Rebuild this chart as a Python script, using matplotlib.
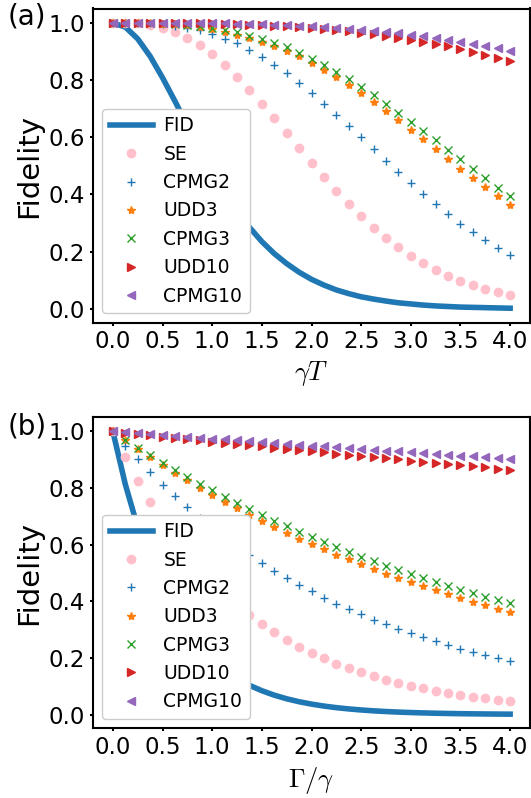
import matplotlib
matplotlib.use("Agg")
import matplotlib.pyplot as plt

plt.rcParams["font.family"] = ["DejaVu Sans"]
plt.rcParams["mathtext.fontset"] = "cm"

# sample grid (gamma*T in panel a, Gamma/gamma in panel b)
x = [0.0, 0.125, 0.25, 0.375, 0.5, 0.625, 0.75, 0.875, 1.0, 1.125, 1.25, 1.375,
     1.5, 1.625, 1.75, 1.875, 2.0, 2.125, 2.25, 2.375, 2.5, 2.625, 2.75, 2.875,
     3.0, 3.125, 3.25, 3.375, 3.5, 3.625, 3.75, 3.875, 4.0]

labels = ["FID", "SE", "CPMG2", "UDD3", "CPMG3", "UDD10", "CPMG10"]

# ---- panel (a): fidelity vs gamma*T ----
fid_a = [1.0, 0.985, 0.944, 0.883, 0.808, 0.726, 0.641, 0.558, 0.479, 0.407, 0.342,
         0.285, 0.235, 0.193, 0.158, 0.128, 0.103, 0.083, 0.066, 0.053, 0.042, 0.034,
         0.027, 0.021, 0.017, 0.013, 0.010, 0.008, 0.006, 0.005, 0.004, 0.003, 0.002]
se_a = [1.0, 0.9997, 0.9976, 0.9924, 0.9828, 0.9681, 0.9478, 0.9218, 0.8901, 0.8532,
        0.8113, 0.7657, 0.7171, 0.6662, 0.6143, 0.5621, 0.5107, 0.4604, 0.4120, 0.3664,
        0.3238, 0.2842, 0.2479, 0.2149, 0.1854, 0.1590, 0.1357, 0.1152, 0.0974, 0.0819,
        0.0686, 0.0572, 0.0476]
cpmg2_a = [1.0, 0.9999, 0.9994, 0.9978, 0.9949, 0.9901, 0.9831, 0.9735, 0.9613, 0.945,
           0.928, 0.906, 0.880, 0.854, 0.825, 0.791, 0.755, 0.716, 0.679, 0.638, 0.600,
           0.559, 0.518, 0.478, 0.440, 0.402, 0.366, 0.331, 0.298, 0.267, 0.239, 0.213,
           0.189]
udd3_a = [1.0, 1.0, 0.9996, 0.9988, 0.9972, 0.9945, 0.9905, 0.985, 0.978, 0.968, 0.957,
          0.947, 0.934, 0.920, 0.903, 0.883, 0.860, 0.836, 0.810, 0.783, 0.754, 0.723,
          0.692, 0.660, 0.626, 0.592, 0.558, 0.523, 0.490, 0.457, 0.425, 0.393, 0.362]
cpmg3_a = [1.0, 1.0, 0.9997, 0.999, 0.9977, 0.9956, 0.992, 0.988, 0.982, 0.974, 0.966,
           0.955, 0.944, 0.930, 0.914, 0.894, 0.873, 0.851, 0.828, 0.803, 0.775, 0.746,
           0.716, 0.685, 0.653, 0.622, 0.589, 0.555, 0.522, 0.490, 0.457, 0.424, 0.393]
udd10_a = [1.0, 1.0, 1.0, 0.9999, 0.9997, 0.9994, 0.9989, 0.9983, 0.9976, 0.9965, 0.9954,
           0.9939, 0.9922, 0.990, 0.9878, 0.985, 0.9819, 0.9785, 0.9746, 0.970, 0.9655,
           0.960, 0.9545, 0.948, 0.9415, 0.934, 0.926, 0.918, 0.908, 0.899, 0.888, 0.877,
           0.865]
cpmg10_a = [1.0, 1.0, 1.0, 0.9999, 0.9998, 0.9996, 0.9992, 0.9988, 0.9983, 0.9975, 0.9967,
            0.9956, 0.9944, 0.9929, 0.9912, 0.9892, 0.987, 0.9845, 0.9817, 0.9786, 0.9752,
            0.9714, 0.9673, 0.9628, 0.9579, 0.9526, 0.9469, 0.9407, 0.9341, 0.9271, 0.9196,
            0.9115, 0.903]

# ---- panel (b): fidelity vs Gamma/gamma ----
fid_b = [1.0, 0.8136, 0.6620, 0.5386, 0.4382, 0.3566, 0.2901, 0.2360, 0.1920, 0.1563,
         0.1271, 0.1034, 0.0842, 0.0685, 0.0557, 0.0453, 0.0369, 0.0300, 0.0244, 0.0199,
         0.0162, 0.0131, 0.0107, 0.0087, 0.0071, 0.0058, 0.0047, 0.0038, 0.0031, 0.0025,
         0.0021, 0.0017, 0.0014]
se_b = [1.0, 0.9092, 0.8267, 0.7516, 0.6833, 0.6213, 0.5649, 0.5136, 0.4670, 0.4246,
        0.3860, 0.3510, 0.3191, 0.2901, 0.2638, 0.2398, 0.2181, 0.1983, 0.1803, 0.1639,
        0.1490, 0.1355, 0.1232, 0.1120, 0.1018, 0.0926, 0.0842, 0.0765, 0.0696, 0.0633,
        0.0575, 0.0523, 0.0476]
cpmg2_b = [1.0, 0.9493, 0.9012, 0.8556, 0.8122, 0.7710, 0.7320, 0.6949, 0.6597, 0.6263,
           0.5945, 0.5644, 0.5358, 0.5087, 0.4829, 0.4584, 0.4352, 0.4131, 0.3922, 0.3723,
           0.3535, 0.3356, 0.3186, 0.3024, 0.2871, 0.2726, 0.2587, 0.2456, 0.2332, 0.2214,
           0.2101, 0.1995, 0.1894]
udd3_b = [1.0, 0.9688, 0.9386, 0.9093, 0.8810, 0.8535, 0.8269, 0.8011, 0.7761, 0.7519,
          0.7284, 0.7057, 0.6837, 0.6624, 0.6417, 0.6217, 0.6023, 0.5835, 0.5653, 0.5477,
          0.5306, 0.5140, 0.4980, 0.4824, 0.4674, 0.4528, 0.4387, 0.4250, 0.4117, 0.3989,
          0.3864, 0.3744, 0.3627]
cpmg3_b = [1.0, 0.9712, 0.9432, 0.9161, 0.8897, 0.8641, 0.8392, 0.8150, 0.7916, 0.7688,
           0.7466, 0.7251, 0.7042, 0.6840, 0.6643, 0.6451, 0.6266, 0.6085, 0.5910, 0.5740,
           0.5575, 0.5414, 0.5258, 0.5107, 0.4960, 0.4817, 0.4678, 0.4544, 0.4413, 0.4286,
           0.4162, 0.4043, 0.3926]
udd10_b = [1.0, 0.9955, 0.9910, 0.9865, 0.9820, 0.9776, 0.9732, 0.9688, 0.9644, 0.9600,
           0.9557, 0.9514, 0.9471, 0.9428, 0.9385, 0.9343, 0.9300, 0.9258, 0.9217, 0.9175,
           0.9133, 0.9092, 0.9051, 0.9010, 0.8969, 0.8929, 0.8888, 0.8848, 0.8808, 0.8768,
           0.8729, 0.8689, 0.8650]
cpmg10_b = [1.0, 0.9968, 0.9936, 0.9905, 0.9873, 0.9842, 0.9811, 0.9779, 0.9748, 0.9717,
            0.9686, 0.9656, 0.9625, 0.9594, 0.9564, 0.9533, 0.9503, 0.9473, 0.9443, 0.9412,
            0.9382, 0.9353, 0.9323, 0.9293, 0.9264, 0.9234, 0.9205, 0.9176, 0.9147, 0.9117,
            0.9089, 0.9060, 0.9030]

panels = [
    ("(a)", r"$\gamma T$", [fid_a, se_a, cpmg2_a, udd3_a, cpmg3_a, udd10_a, cpmg10_a]),
    ("(b)", r"$\Gamma/\gamma$", [fid_b, se_b, cpmg2_b, udd3_b, cpmg3_b, udd10_b, cpmg10_b]),
]

styles = [
    dict(linestyle="-", lw=4, color="#1f77b4"),
    dict(linestyle="none", marker="o", color="pink"),
    dict(linestyle="none", marker="+", color="#1f77b4"),
    dict(linestyle="none", marker="*", color="#ff7f0e"),
    dict(linestyle="none", marker="x", color="#2ca02c"),
    dict(linestyle="none", marker=">", color="#d62728"),
    dict(linestyle="none", marker="<", color="#9467bd"),
]

W, H = 531, 798
fig = plt.figure(figsize=(W / 100, H / 100), dpi=100)

# axes boxes in pixels: (left, top, right, bottom)
boxes = [(93, 8.5, 530, 322.5), (93, 417.3, 530, 728.3)]
tags_y = [25, 435]

for (tag, xlab, series), (l, t, r, b), ty in zip(panels, boxes, tags_y):
    ax = fig.add_axes([l / W, 1 - b / H, (r - l) / W, (b - t) / H])
    for vals, lab, st in zip(series, labels, styles):
        ax.plot(x, vals, label=lab, **st)
    ax.set_xticks([0.0, 0.5, 1.0, 1.5, 2.0, 2.5, 3.0, 3.5, 4.0])
    ax.set_yticks([0.0, 0.2, 0.4, 0.6, 0.8, 1.0])
    ax.tick_params(labelsize=16.5, length=2.2, width=1.5)
    for sp in ax.spines.values():
        sp.set_linewidth(1.5)
    ax.set_ylabel("Fidelity", fontsize=21)
    ax.set_xlabel(xlab, fontsize=19)
    ax.legend(loc="lower left", fontsize=13.5, handlelength=2.3,
              handletextpad=0.55, framealpha=1.0)
    fig.text(8 / W, 1 - ty / H, tag, fontsize=20, va="baseline", ha="left")

fig.savefig("out.png", dpi=100)
